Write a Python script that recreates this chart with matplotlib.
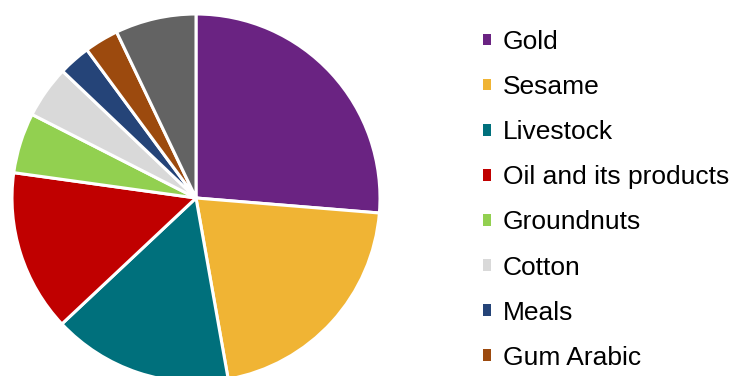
import matplotlib.pyplot as plt
from matplotlib.patches import Patch

# export shares (%), clockwise from 12 o'clock
labels = ["Gold", "Sesame", "Livestock", "Oil and its products", "Groundnuts",
          "Cotton", "Meals", "Gum Arabic", "Other"]
shares = [26.3, 20.9, 15.8, 14.2, 5.3, 4.6, 2.8, 3.0, 7.1]
colors = ["#6A2382", "#F0B434", "#00707C", "#C00000", "#92D050",
          "#D9D9D9", "#254478", "#9C4A0E", "#636363"]

plt.rcParams['font.family'] = ['Liberation Sans', 'DejaVu Sans']

fig = plt.figure(figsize=(7.32, 3.76), dpi=100)
ax = fig.add_axes([12 / 732, -6 / 376, 368 / 732, 368 / 376])
ax.pie(shares, colors=colors, startangle=90, counterclock=False, radius=1,
       wedgeprops=dict(edgecolor="white", linewidth=2.2))
ax.set_xlim(-1.0, 1.0)
ax.set_ylim(-1.0, 1.0)
ax.set_aspect("equal")
ax.axis("off")

# legend only lists the first eight items
handles = [Patch(facecolor=c, edgecolor="none") for c in colors[:8]]
fig.legend(handles, labels[:8], loc="upper left", bbox_to_anchor=(483 / 732, 1 - 30 / 376),
           frameon=False, fontsize=19, handlelength=0.3, handleheight=0.3,
           handletextpad=0.45, labelspacing=0.80, borderaxespad=0, borderpad=0)

fig.savefig("out.png", dpi=100)
